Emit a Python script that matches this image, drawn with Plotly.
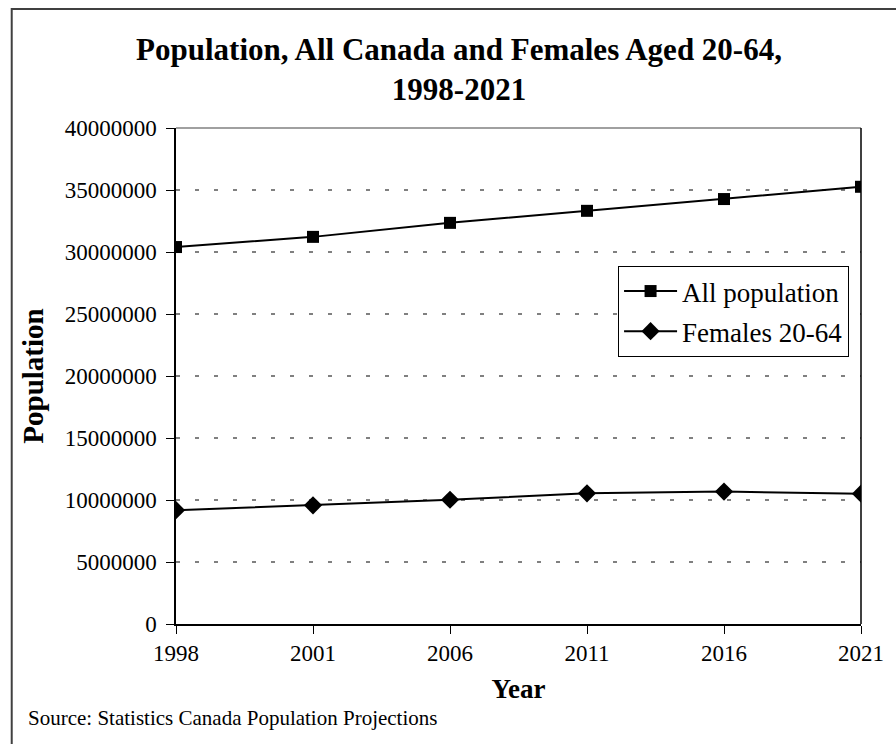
import plotly.graph_objects as go

years = ["1998", "2001", "2006", "2011", "2016", "2021"]
all_population = [30400000, 31220000, 32350000, 33320000, 34270000, 35260000]
females_20_64 = [9180000, 9570000, 10020000, 10540000, 10680000, 10510000]
y_ticks = [0, 5000000, 10000000, 15000000, 20000000, 25000000, 30000000, 35000000, 40000000]

FONT = "Liberation Serif"
W, H = 896, 744
L, R, T, B = 176, 32, 128, 120
pw, ph = W - L - R, H - T - B

def px(x):
    return (x - L) / pw

def py(y):
    return (H - B - y) / ph

fig = go.Figure()
fig.add_trace(go.Scatter(
    x=years, y=all_population, name="All population", mode="lines+markers",
    legendgroup="a",
    line=dict(color="black", width=2),
    marker=dict(symbol="square", size=12, color="black"),
))
fig.add_trace(go.Scatter(
    x=years, y=females_20_64, name="Females 20-64", mode="lines+markers",
    legendgroup="b",
    line=dict(color="black", width=2),
    marker=dict(symbol="diamond", size=14, color="black"),
))

fig.update_layout(
    width=W, height=H,
    margin=dict(l=L, r=R, t=T, b=B),
    paper_bgcolor="white", plot_bgcolor="white",
    font=dict(family=FONT, color="black", size=23),
    title=dict(
        text="<b>Population, All Canada and Females Aged 20-64,<br>1998-2021</b>",
        x=459 / W, xanchor="center", y=1 - 60 / H, yanchor="middle",
        font=dict(family=FONT, size=31, color="black"),
    ),
    showlegend=True,
    legend=dict(
        x=px(620), y=py(266), xanchor="left", yanchor="top",
        bgcolor="white", bordercolor="black", borderwidth=1,
        font=dict(family=FONT, size=27, color="black"),
        tracegroupgap=2, itemwidth=53,
    ),
    xaxis=dict(
        type="category", range=[0, len(years) - 1],
        showgrid=False, showline=True, linecolor="black", linewidth=1.5,
        ticks="outside", ticklen=8, tickcolor="black", tickwidth=1,
        tickfont=dict(family=FONT, size=23),
        title=dict(text="<b>Year</b>", font=dict(family=FONT, size=27), standoff=14),
        zeroline=False,
    ),
    yaxis=dict(
        range=[0, 40000000], tickvals=y_ticks, ticktext=[str(v) for v in y_ticks],
        showgrid=True, gridcolor="#808080", gridwidth=1.5, griddash="4px,15px",
        showline=True, linecolor="black", linewidth=1.5,
        ticks="outside", ticklen=8, tickcolor="black", tickwidth=1,
        ticklabelstandoff=5,
        tickfont=dict(family=FONT, size=23),
        title=dict(text="<b>Population</b>", font=dict(family=FONT, size=29), standoff=13),
        zeroline=False,
    ),
    shapes=[
        dict(type="line", xref="paper", yref="paper", x0=0, x1=1, y0=1, y1=1,
             line=dict(color="#808080", width=1.5)),
        dict(type="line", xref="paper", yref="paper", x0=1, x1=1, y0=0, y1=1,
             line=dict(color="black", width=1.5)),
        dict(type="rect", xref="paper", yref="paper",
             x0=px(11), x1=px(905), y0=py(9), y1=py(760),
             line=dict(color="#404040", width=2), fillcolor="rgba(0,0,0,0)", layer="below"),
    ],
    annotations=[
        dict(text="Source: Statistics Canada Population Projections", xref="paper", yref="paper",
             x=px(25), y=py(718), xanchor="left", yanchor="middle", showarrow=False,
             font=dict(family=FONT, size=21, color="black")),
    ],
)

fig.write_html("out.html")
